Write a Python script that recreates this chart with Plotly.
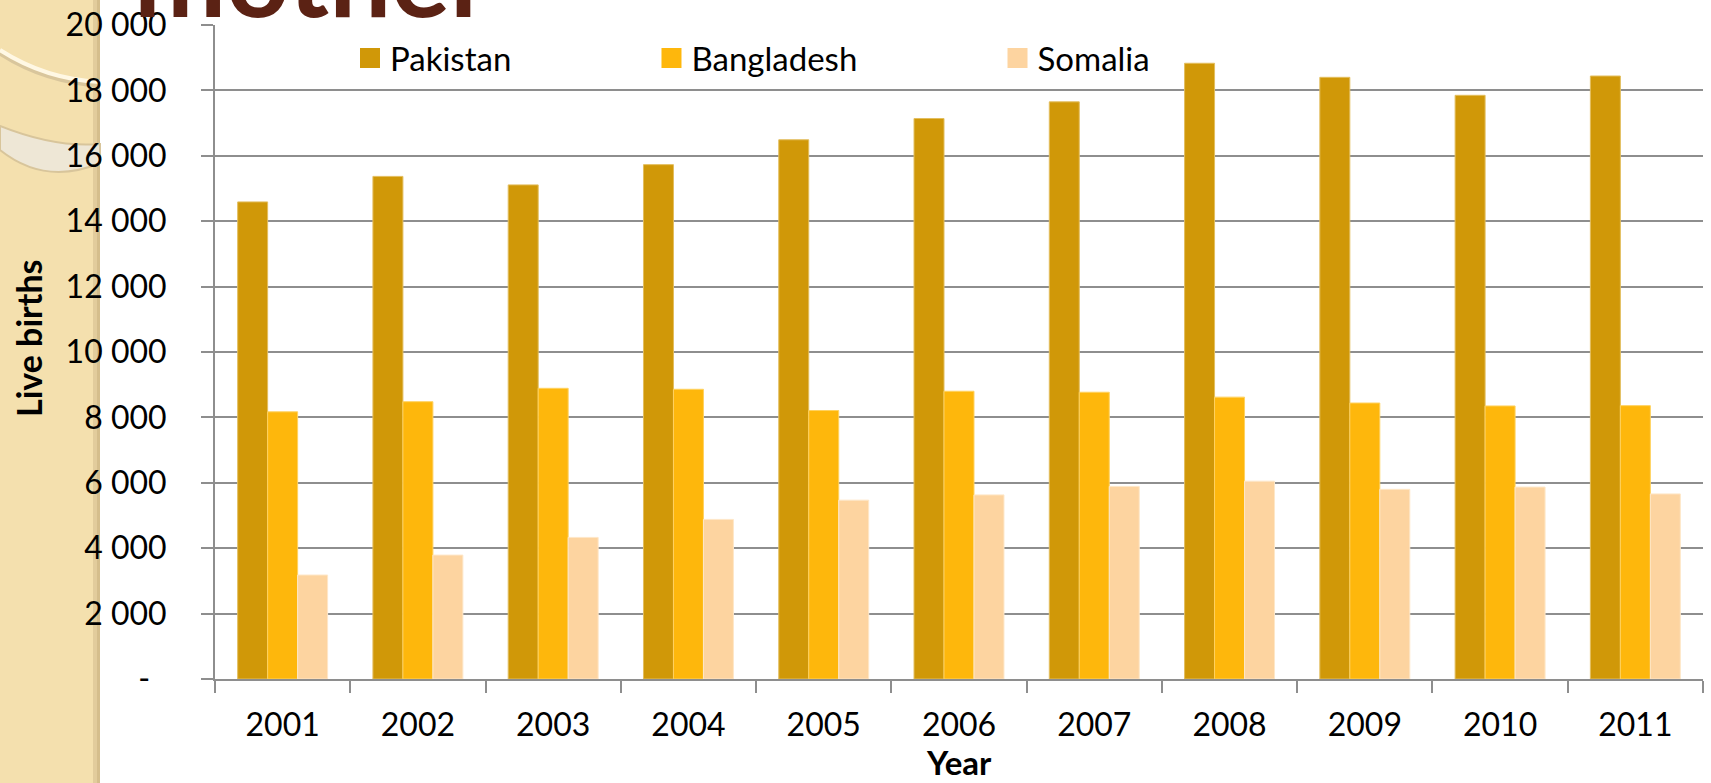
import plotly.graph_objects as go

# ---- data ----
years = ['2001', '2002', '2003', '2004', '2005', '2006', '2007', '2008', '2009', '2010', '2011']
pakistan = [14590, 15370, 15110, 15730, 16490, 17140, 17650, 18830, 18400, 17850, 18440]
bangladesh = [8170, 8480, 8890, 8860, 8210, 8800, 8770, 8620, 8440, 8350, 8360]
somalia = [3180, 3790, 4330, 4880, 5470, 5630, 5890, 6050, 5800, 5870, 5660]
series_names = ['Pakistan', 'Bangladesh', 'Somalia']
y_tick_values = [0, 2000, 4000, 6000, 8000, 10000, 12000, 14000, 16000, 18000, 20000]
y_tick_labels = ['-', '2 000', '4 000', '6 000', '8 000', '10 000', '12 000',
                 '14 000', '16 000', '18 000', '20 000']
x_title = 'Year'
y_title = 'Live births'
slide_title = 'mother'

# ---- styling ----
W, H = 1711, 783
ML, MR, MT, MB = 215, 8, 25, 104
PW, PH = W - ML - MR, H - MT - MB
FONT = 'Lato'
colors = ['#D09808', '#FEB70C', '#FDD4A0']
edge_colors = ['#E3BE5E', '#FFD260', '#FEE7C8']
GRID = '#8E8E8E'
NBSP = '\u00a0'
legend_pad = [16, 16, 0]


def px(x):
    return (x - ML) / PW


def py(y):
    return 1 - (y - MT) / PH


fig = go.Figure()
values = [pakistan, bangladesh, somalia]
for name, vals, c, ec in zip(series_names, values, colors, edge_colors):
    fig.add_trace(go.Bar(x=years, y=vals, name=name, showlegend=False,
                         marker=dict(color=c, line=dict(color=ec, width=1))))
# legend entries (square swatches)
for name, c, pad in zip(series_names, colors, legend_pad):
    fig.add_trace(go.Scatter(x=[None], y=[None], mode='markers', name=name + NBSP * pad,
                             marker=dict(symbol='square', size=20, color=c,
                                         line=dict(color=c, width=4))))

shapes = []
# left decorative strip of the slide background
shapes.append(dict(type='rect', xref='paper', yref='paper', x0=px(-5), x1=px(100),
                   y0=py(H + 5), y1=py(-5), fillcolor='#F4E0AE', line=dict(width=0), layer='below'))
shapes.append(dict(type='rect', xref='paper', yref='paper', x0=px(93), x1=px(100),
                   y0=py(H + 5), y1=py(-5), fillcolor='#E2CC9C', line=dict(width=0), layer='below'))
shapes.append(dict(type='rect', xref='paper', yref='paper', x0=px(97), x1=px(100),
                   y0=py(H + 5), y1=py(-5), fillcolor='#D5BE8C', line=dict(width=0), layer='below'))


def P(x, y):
    return '%.5f,%.5f' % (px(x), py(y))


# pale crescent band
shapes.append(dict(type='path', xref='paper', yref='paper', layer='below',
                   path='M' + P(0, 126) + ' Q' + P(55, 148) + ' ' + P(100, 144) +
                        ' L' + P(100, 163) + ' Q' + P(45, 186) + ' ' + P(0, 150) + ' Z',
                   fillcolor='#EEE7D6', line=dict(color='#D8C59B', width=2)))
# thin cream arc with shadow
shapes.append(dict(type='path', xref='paper', yref='paper', layer='below',
                   path='M' + P(0, 53) + ' Q' + P(45, 82) + ' ' + P(100, 85),
                   line=dict(color='#D9C69C', width=5)))
shapes.append(dict(type='path', xref='paper', yref='paper', layer='below',
                   path='M' + P(0, 50) + ' Q' + P(45, 79) + ' ' + P(100, 82),
                   line=dict(color='#FFF8E4', width=4)))

annotations = [
    dict(text='<b>' + slide_title + '</b>', xref='paper', yref='paper', x=px(132), y=py(-26),
         xanchor='left', yanchor='middle', showarrow=False,
         font=dict(family=FONT, size=110, color='#5B2214')),
    dict(text='<b>' + y_title + '</b>', xref='paper', yref='paper', x=px(28), y=py(338),
         xanchor='center', yanchor='middle', textangle=-90, showarrow=False,
         font=dict(family=FONT, size=34, color='black')),
    dict(text='<b>' + x_title + '</b>', xref='paper', yref='paper', x=0.5, y=py(762),
         xanchor='center', yanchor='middle', showarrow=False,
         font=dict(family=FONT, size=33, color='black')),
]

fig.update_layout(
    template='none',
    width=W, height=H,
    margin=dict(l=ML, r=MR, t=MT, b=MB, pad=0, autoexpand=False),
    paper_bgcolor='white', plot_bgcolor='white',
    barmode='group', bargap=0.335, bargroupgap=0,
    font=dict(family=FONT, size=32, color='black'),
    showlegend=True,
    legend=dict(orientation='h', x=px(350), xanchor='left', y=py(58), yanchor='middle',
                bgcolor='rgba(0,0,0,0)', font=dict(family=FONT, size=33, color='black'),
                itemsizing='trace', borderwidth=0),
    shapes=shapes,
    annotations=annotations,
)
fig.update_xaxes(type='category', automargin=False, showline=True, linecolor=GRID, linewidth=2,
                 ticks='outside', tickson='boundaries', ticklen=12, tickwidth=2, tickcolor=GRID,
                 showgrid=False, ticklabelstandoff=17,
                 tickfont=dict(family=FONT, size=32, color='black'))
fig.update_yaxes(range=[0, 20000], automargin=False, tickvals=y_tick_values,
                 ticktext=[t if t != '-' else t + NBSP * 2 for t in y_tick_labels],
                 showline=True, linecolor=GRID, linewidth=2, showgrid=True, gridcolor=GRID,
                 gridwidth=1.5, zeroline=False, ticks='outside', ticklen=12, tickwidth=1.5,
                 tickcolor=GRID, ticklabelstandoff=28,
                 tickfont=dict(family=FONT, size=32, color='black'))

fig.write_html('out.html', config={'displayModeBar': False},
               post_script="document.body.style.margin='0';")
